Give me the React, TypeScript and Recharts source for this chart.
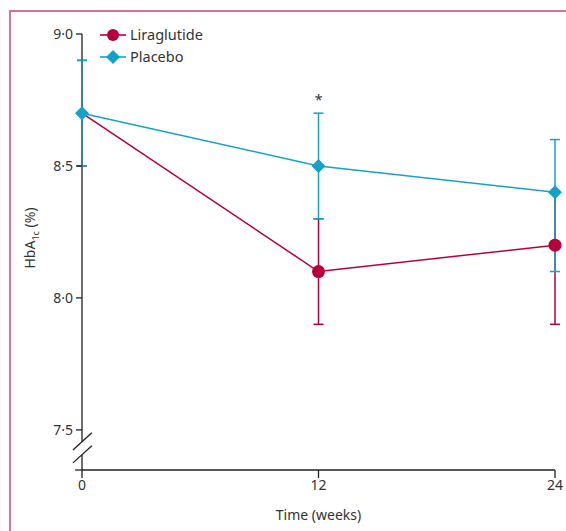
import React from 'react';
import { LineChart, Line, XAxis, YAxis, ErrorBar, ReferenceLine, ReferenceDot } from 'recharts';

const weeks = [0, 12, 24];
const liraglutide = [8.7, 8.1, 8.2];
const liraLow = [8.5, 7.9, 7.9];
const liraHigh = [8.9, 8.3, 8.4];
const placebo = [8.7, 8.5, 8.4];
const placeboLow = [8.5, 8.3, 8.1];
const placeboHigh = [8.9, 8.7, 8.6];
const yTicks = [7.5, 8.0, 8.5, 9.0];
const xTicks = [0, 12, 24];
const Y_MIN = 7.348;
const Y_MAX = 9.0;

const RED = '#b5003b';
const BLUE = '#15a2c9';
const AXIS = '#231f20';
const TEXT = '#333333';
const FONT = '"Noto Sans", sans-serif';

const data = weeks.map((w, i) => ({
  week: w,
  lira: liraglutide[i],
  liraErr: [liraglutide[i] - liraLow[i], liraHigh[i] - liraglutide[i]],
  placebo: placebo[i],
  placeboErr: [placebo[i] - placeboLow[i], placeboHigh[i] - placebo[i]],
}));

const Diamond = (props: any) => {
  const { cx, cy } = props;
  if (cx == null || cy == null) return null;
  const s = 7;
  return <polygon points={`${cx},${cy - s} ${cx + s},${cy} ${cx},${cy + s} ${cx - s},${cy}`} fill={BLUE} />;
};

// Circle hidden where it coincides with the placebo marker (it sits under the diamond)
const Circle = (props: any) => {
  const { cx, cy, payload } = props;
  if (cx == null || cy == null) return null;
  if (payload && payload.lira === payload.placebo) return null;
  return <circle cx={cx} cy={cy} r={6.5} fill={RED} />;
};

const LegendBox = () => (
  <svg width={130} height={50} style={{ position: 'absolute', left: 100, top: 25, display: 'block' }}>
    <line x1={0} y1={10} x2={26} y2={10} stroke={RED} strokeWidth={1.6} />
    <circle cx={13} cy={10} r={6} fill={RED} />
    <text x={30} y={15} fontSize={14.5} fill={TEXT} fontFamily={FONT}>Liraglutide</text>
    <line x1={0} y1={32} x2={26} y2={32} stroke={BLUE} strokeWidth={1.6} />
    <polygon points="13,25 20,32 13,39 6,32" fill={BLUE} />
    <text x={30} y={37} fontSize={14.5} fill={TEXT} fontFamily={FONT}>Placebo</text>
  </svg>
);

const YLabel = () => {
  const x = 35;
  const y = 238;
  return (
    <text x={x} y={y} transform={`rotate(-90, ${x}, ${y})`} textAnchor="middle" fontSize={14} fill={TEXT} fontFamily={FONT}>
      HbA<tspan fontSize={9} dy={4}>1c</tspan><tspan dy={-4}> (%)</tspan>
    </text>
  );
};

const fmt = (v: number) => v.toFixed(1).replace('.', '·');

export default function App() {
  return (
    <div style={{ position: 'relative', width: 566, height: 531, overflow: 'hidden', background: '#fff' }}>
      <style>{'body{margin:0;}'}</style>
      <div
        style={{
          position: 'absolute',
          left: 9,
          top: 10,
          width: 600,
          height: 600,
          borderTop: '2px solid #d7728f',
          borderLeft: '2px solid #d7728f',
          boxSizing: 'border-box',
        }}
      />
      <div style={{ position: 'absolute', left: 0, top: 0 }}>
        <LineChart width={566} height={531} data={data} margin={{ top: 34, right: 11, bottom: 31, left: 22 }}>
          <XAxis
            dataKey="week"
            type="number"
            domain={[0, 24]}
            ticks={xTicks}
            height={30}
            tickSize={8}
            tickMargin={2}
            axisLine={{ stroke: AXIS, strokeWidth: 1.3 }}
            tickLine={{ stroke: AXIS, strokeWidth: 1.3 }}
            tick={{ fontSize: 14, fill: TEXT, fontFamily: FONT }}
            label={{ value: 'Time (weeks)', position: 'bottom', offset: 10, fontSize: 14, fill: TEXT, fontFamily: FONT }}
          />
          <YAxis
            type="number"
            domain={[Y_MIN, Y_MAX]}
            ticks={yTicks}
            width={60}
            tickSize={6}
            tickMargin={3}
            axisLine={false}
            tickLine={{ stroke: AXIS, strokeWidth: 1.3 }}
            tickFormatter={fmt}
            tick={{ fontSize: 14, fill: TEXT, fontFamily: FONT }}
            allowDataOverflow
            label={<YLabel />}
          />
          <ReferenceLine segment={[{ x: 0, y: Y_MAX }, { x: 0, y: 7.455 }]} stroke={AXIS} strokeWidth={1.3} ifOverflow="visible" />
          <ReferenceLine segment={[{ x: 0, y: 7.405 }, { x: 0, y: Y_MIN }]} stroke={AXIS} strokeWidth={1.3} ifOverflow="visible" />
          <ReferenceLine segment={[{ x: -0.35, y: Y_MIN }, { x: 0, y: Y_MIN }]} stroke={AXIS} strokeWidth={1.3} ifOverflow="visible" />
          <ReferenceLine segment={[{ x: -0.46, y: 7.424 }, { x: 0.5, y: 7.489 }]} stroke={AXIS} strokeWidth={1.3} ifOverflow="visible" />
          <ReferenceLine segment={[{ x: -0.46, y: 7.375 }, { x: 0.5, y: 7.44 }]} stroke={AXIS} strokeWidth={1.3} ifOverflow="visible" />
          <Line
            dataKey="lira"
            stroke={RED}
            strokeWidth={1.5}
            dot={<Circle />}
            activeDot={false}
            isAnimationActive={false}
          >
            <ErrorBar dataKey="liraErr" direction="y" width={5} stroke={RED} strokeWidth={1.5} isAnimationActive={false} />
          </Line>
          <Line
            dataKey="placebo"
            stroke={BLUE}
            strokeWidth={1.5}
            dot={<Diamond />}
            activeDot={false}
            isAnimationActive={false}
          >
            <ErrorBar dataKey="placeboErr" direction="y" width={5} stroke={BLUE} strokeWidth={1.5} isAnimationActive={false} />
          </Line>
          <ReferenceDot
            x={weeks[1]}
            y={placeboHigh[1]}
            r={0}
            ifOverflow="visible"
            label={{ value: '*', position: 'top', offset: 8, fontSize: 14, fill: TEXT, fontFamily: FONT }}
          />
        </LineChart>
      </div>
      <LegendBox />
    </div>
  );
}
